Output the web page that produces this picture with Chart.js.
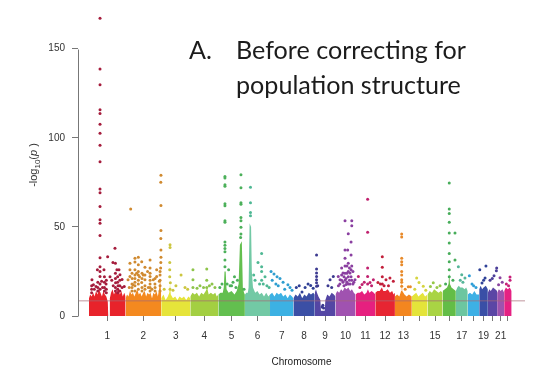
<!DOCTYPE html>
<html><head><meta charset="utf-8">
<script src="https://cdn.jsdelivr.net/npm/chart.js@4/dist/chart.umd.min.js"></script>
<style>html,body{margin:0;padding:0;background:#fff}#wrap{width:553px;height:392px;position:relative}</style>
</head><body><div id="wrap"><canvas id="c" width="553" height="392"></canvas></div>
<script>
// ---- data ----
const chromosomes = ['1','2','3','4','5','6','7','8','9','10','11','12','13','14','15','16','17','18','19','20','21','22'];
const shownLabels = ['1','2','3','4','5','6','7','8','9','10','11','12','13','15','17','19','21'];
const chromLengthMb = [249,243,198,191,181,171,159,146,141,136,135,134,115,107,103,90,81,78,59,63,48,51];
const yTicks = [0,50,100,150];
const thresholdValue = 8.5;
const xTitle = 'Chromosome';
const panelTitleLetter = 'A.';
const panelTitleLines = ['Before correcting for','population structure'];

const chromColors = ['#e8232b','#f4891f','#e6e43a','#a3cf42','#63bf4f','#72c9a5','#3cb1e3','#3b4fa5','#5446a4','#a052b0','#e6207f','#e72532','#f3861f','#e4e43a','#a9d444','#63bd47','#6cc6a0','#3db0e5','#3a4fa6','#5b46a5','#9d53ae','#e52183'];
const hitColors = ['#a51c3c','#d08a30','#ccc640','#8ec44a','#4cb05a','#4fb894','#2e9ed0','#2f3f95','#3c3a90','#8a3fa0','#c0206e','#c21f3a','#e88a2a','#d5d440','#96c848','#47ad5a','#55b598','#2f9fd8','#2f4298','#4b3e98','#8a449f','#c81e78'];

// dense bulk of SNPs: upper outline of the solid band, [position Mb, -log10 p]
const blockTop = [
 [[0,10],[8,12],[18,11],[28,13],[38,11],[48,14],[58,12],[68,15],[78,13],[88,11],[98,14],[108,12],[118,11],[128,8],[131,0],[139,0],[142,10],[150,13],[160,15],[170,12],[180,14],[190,13],[200,16],[210,12],[220,14],[230,11],[240,13],[249,11]],
 [[0,10],[10,12],[20,11],[30,14],[40,12],[50,13],[60,11],[70,13],[80,15],[90,12],[100,13],[110,11],[120,13],[130,14],[140,11],[150,13],[160,12],[170,13],[180,10],[190,13],[200,12],[210,14],[220,11],[230,16],[236,20],[242,13],[243,11]],
 [[0,10],[15,12],[30,9],[45,11],[55,13],[60,18],[65,12],[80,10],[95,11],[110,9],[125,11],[140,10],[155,11],[170,9],[185,11],[198,10]],
 [[0,11],[15,13],[30,12],[45,13],[60,11],[75,13],[90,12],[105,14],[115,16],[125,12],[140,13],[155,12],[170,13],[180,11],[191,12]],
 [[0,12],[15,13],[30,13],[37,16],[42,25],[50,25],[56,15],[70,13],[90,14],[110,12],[125,14],[138,18],[147,40],[160,42],[167,16],[175,13],[181,12]],
 [[0,12],[10,13],[20,13],[25,16],[32,52],[42,50],[47,25],[55,16],[70,13],[85,14],[100,12],[115,13],[130,11],[145,13],[160,11],[171,12]],
 [[0,12],[15,13],[30,11],[45,13],[60,12],[75,13],[90,11],[105,12],[120,10],[135,12],[150,11],[159,10]],
 [[0,10],[15,12],[30,11],[45,13],[60,10],[75,12],[90,11],[105,13],[120,12],[135,13],[146,12]],
 [[0,13],[8,15],[15,13],[25,11],[38,9],[42,3],[68,3],[72,9],[85,12],[100,11],[115,13],[130,12],[141,11]],
 [[0,12],[12,14],[25,13],[38,15],[50,14],[62,16],[75,15],[88,16],[100,14],[112,15],[125,13],[136,12]],
 [[0,12],[15,13],[30,13],[45,14],[60,12],[75,13],[85,15],[95,13],[110,14],[125,13],[135,12]],
 [[0,13],[15,14],[30,14],[45,16],[55,14],[70,14],[85,15],[100,13],[115,14],[125,12],[134,13]],
 [[0,11],[15,12],[30,11],[42,14],[46,22],[50,14],[65,12],[80,11],[95,12],[115,11]],
 [[0,11],[15,12],[30,13],[45,11],[60,12],[75,13],[90,11],[107,12]],
 [[0,12],[15,14],[30,13],[45,15],[60,14],[75,13],[90,14],[103,13]],
 [[0,14],[15,15],[30,16],[40,18],[45,24],[50,18],[60,16],[75,15],[90,14]],
 [[0,14],[10,16],[20,17],[30,16],[45,16],[60,15],[70,16],[81,14]],
 [[0,12],[15,13],[30,12],[45,14],[60,12],[78,12]],
 [[0,15],[10,17],[20,15],[30,16],[45,17],[59,15]],
 [[0,13],[10,15],[20,14],[35,16],[50,15],[63,14]],
 [[0,13],[12,15],[24,14],[36,15],[48,13]],
 [[0,14],[12,16],[25,15],[38,16],[51,14]]
];

// individual SNPs standing out above the bulk, [position Mb, -log10 p]
const hits = [
 [[75,167],[75,138.6],[75,129.8],[75,115.7],[75,113.6],[75,107.6],[75,102.6],[75,95.8],[75,86.6],[75,71.3],[75,69.1],[75,61.4],[75,54],[75,52],[75,45.2],[75,32.7],[75,27.7],[75,22.2],[127,33.3],[177,38],[163,30],[180,29.6],[190,26],[211,23.2],[204,26],[57,26],[102,26],[20,20.4],[86,19.5],[181,18.6],[48,16.5],[116,18],[143,22],[225,20.5],[198,17],[30,17.5],[240,16.5],[155,20],
  [18,13],[18,15],[18,17],[60,14],[60,16],[60,19],[105,14],[105,16],[105,19],[105,22],[118,13],[118,15],[118,20],[180,14],[180,16],[180,21],[180,24],[195,13],[195,15],[195,19],[195,22],[210,14],[210,17],[210,20],[75,15],[75,18],[75,25],[36,15],[92,16],[165,17],[225,16]],
 [[35,60],[241,79],[240,75],[241,62],[241,48],[240,43.5],[241,37],[241,33],[240,30],[239,27],[30,29.6],[30,26],[30,22.2],[64,32.4],[64,30.3],[64,26],[87,32.9],[87,28.7],[110,30.5],[132,27.4],[167,31.4],[167,22.2],[189,20.4],[212,26],[212,22.2],[230,19.5],[132,20.4],[110,18.8],[51,17.6],[17,20.4],[75,24],[95,22],[150,25],[200,18],[120,23],[45,21],
  [44,14],[44,16],[44,18],[44,24],[64,14],[64,17],[64,19],[64,21],[64,23],[87,15],[87,18],[87,20],[87,23],[87,25],[112,14],[112,16],[112,21],[112,24],[132,15],[132,17],[132,23],[167,14],[167,16],[167,18],[167,20],[167,24],[167,27],[201,14],[201,16],[201,21],[235,14],[235,17],[235,20],[235,23],[235,25],[155,16],[180,15],[25,16]],
 [[60,40],[60,38.5],[58,30],[58,26],[62,18.6],[135,23],[162,16],[100,17],[20,15],[80,14.5],[180,15],[58,22],[60,15]],
 [[18,26],[18,20.4],[112,26.3],[112,20],[66,17],[148,18],[168,16],[46,15.5],[90,16],[130,17],[18,16],[112,16]],
 [[45,78.3],[45,77.4],[45,73.7],[45,72.8],[45,63],[45,61.8],[45,53.5],[45,52.6],[45,41.5],[45,39.7],[45,37.9],[45,36],[45,31.4],[45,27.7],[154,79.3],[154,71.9],[154,63.6],[154,62.7],[154,55.3],[154,53.5],[154,49.8],[154,46],[152,44],[10,16],[25,18],[80,17],[100,19],[120,16],[175,15],[70,26],[110,22],[130,20],[60,18],[90,17]],
 [[38,72.3],[38,63.6],[38,58],[38,56.3],[114,35],[114,27.7],[114,25],[89,30],[137,22],[69,20],[60,23],[100,18],[150,17],[165,16],[114,20],[125,18]],
 [[7,25],[27,23.5],[48,22],[68,21],[89,19],[122,17.5],[136,16],[15,20],[40,18],[100,15],[150,14.5],[56,17]],
 [[118,17.1],[59,13.5],[20,16],[40,17],[80,16],[100,18],[135,15.5]],
 [[12,34.2],[12,26.3],[12,24.1],[12,22.2],[12,20.4],[12,18.6],[12,16.7],[104,20.4],[126,22.2],[90,17],[20,17],[55,6],[60,4.5],[50,5],[115,16]],
 [[65,53.5],[111,53.5],[111,50.7],[87,46.2],[106,41.5],[65,37],[83,37],[65,32.4],[106,34.2],[87,29.6],[42,26.9],[19,22.2],[119,25],[133,20.4],[51,24.1],[99,24.1],[31,20.4],[72,17.7],[95,27],[78,28],[58,22],[125,19],
  [20,17],[30,18],[42,20],[42,23],[51,19],[58,17],[65,20],[65,24],[65,28],[72,21],[78,19],[78,24],[87,18],[87,22],[87,25],[95,20],[99,18],[106,22],[106,26],[111,20],[111,28],[119,18]],
 [[83,65.5],[83,47],[83,26.9],[83,22.2],[20,22.2],[122,20.4],[45,17.7],[99,18.8],[60,19],[110,17],[83,18],[30,16]],
 [[48,33.3],[48,27.4],[48,22],[100,21.3],[123,19.5],[18,18.8],[73,20.4],[35,18],[90,17],[48,18],[60,17]],
 [[46,46],[46,44.3],[46,32.4],[46,30.5],[46,28.7],[46,25],[46,20.4],[46,16.7],[91,16.4],[105,16.4],[70,15],[46,23],[46,19]],
 [[33,21.3],[78,16.7],[49,18.8],[20,15],[95,14.5]],
 [[39,18.6],[64,16],[20,16.5],[85,17]],
 [[45,74.6],[45,60],[45,57.5],[45,52.6],[45,46.5],[45,41],[45,35.1],[45,30.5],[45,25.9],[45,22],[84,46.5],[84,31.4],[70,20],[20,18]],
 [[17,27.7],[40,23.2],[62,21.3],[48,19],[30,20]],
 [[11,22.6],[29,18],[56,16],[40,17]],
 [[4,26],[46,28.1],[40,21.3],[19,18.5],[30,20]],
 [[42,22.6],[60,26.9],[58,25.4],[15,20],[30,21]],
 [[20,21.5],[35,19],[10,17.5]],
 [[40,21.9],[40,20],[30,17],[15,18]]
];

// ---- derived ----
const offsets = []; let acc = 0;
chromLengthMb.forEach(l => { offsets.push(acc); acc += l; });
const centers = chromLengthMb.map((l, i) => offsets[i] + l / 2);
const xMin = -75, xMax = 2970;

const datasets = [];
datasets.push({
  data: [{x: xMin, y: thresholdValue}, {x: xMax, y: thresholdValue}],
  borderColor: 'rgba(165,105,115,0.7)', borderWidth: 1, pointRadius: 0, fill: false
});
chromosomes.forEach((c, i) => {
  datasets.push({
    data: hits[i].map(([p, v]) => ({x: offsets[i] + p, y: v})),
    showLine: false, pointRadius: 1.5, pointHoverRadius: 1.5,
    pointBackgroundColor: hitColors[i], pointBorderWidth: 0, borderColor: hitColors[i]
  });
});
chromosomes.forEach((c, i) => {
  datasets.push({
    data: blockTop[i].map(([p, v]) => ({x: offsets[i] + p, y: v})),
    borderWidth: 0, borderColor: chromColors[i], pointRadius: 0, tension: 0,
    fill: 'origin', backgroundColor: chromColors[i]
  });
});

Chart.defaults.font.family = '"Liberation Sans", Arial, sans-serif';

const yAxisLine = {
  id: 'yAxisLine',
  afterDraw(chart) {
    const ctx = chart.ctx, ys = chart.scales.y;
    const x = Math.round(chart.chartArea.left) + 0.5;
    ctx.save();
    ctx.strokeStyle = '#777'; ctx.lineWidth = 1;
    ctx.beginPath();
    ctx.moveTo(x, Math.round(ys.getPixelForValue(yTicks[0])) + 0.5);
    ctx.lineTo(x, Math.round(ys.getPixelForValue(yTicks[yTicks.length - 1])) + 0.5);
    ctx.stroke();
    // y-axis title  -log10(p)
    ctx.translate(33, 165);
    ctx.rotate(-Math.PI / 2);
    ctx.fillStyle = '#333';
    const fam = '"Liberation Sans", Arial, sans-serif';
    const parts = [['-log', 'normal 11px ' + fam, 0], ['10', 'normal 8px ' + fam, 3], ['(', 'normal 11px ' + fam, 0], ['p', 'italic 11px ' + fam, 0], [' )', 'normal 11px ' + fam, 0]];
    let total = 0;
    parts.forEach(p => { ctx.font = p[1]; total += ctx.measureText(p[0]).width; });
    let cx = -total / 2;
    ctx.textBaseline = 'alphabetic';
    parts.forEach(p => { ctx.font = p[1]; ctx.fillText(p[0], cx, 4 + p[2]); cx += ctx.measureText(p[0]).width; });
    ctx.restore();
  }
};

const panelTitle = {
  id: 'panelTitle',
  afterDraw(chart) {
    const ctx = chart.ctx;
    ctx.save();
    const fam = 'Lato, "Open Sans", sans-serif';
    ctx.font = '24px ' + fam;
    const w = ctx.measureText(panelTitleLines[0]).width;
    const size = 24 * 230 / w;
    ctx.font = size.toFixed(2) + 'px ' + fam;
    ctx.fillStyle = '#1c1c1c';
    ctx.textBaseline = 'alphabetic';
    ctx.fillText(panelTitleLetter, 189, 59);
    ctx.fillText(panelTitleLines[0], 236, 59);
    ctx.fillText(panelTitleLines[1], 236, 94);
    ctx.restore();
  }
};

new Chart(document.getElementById('c'), {
  type: 'line',
  data: { datasets },
  options: {
    responsive: false, animation: false, events: [],
    layout: { padding: { left: 0, right: 28, top: 9, bottom: 0 } },
    plugins: { legend: { display: false }, tooltip: { enabled: false } },
    scales: {
      x: {
        type: 'linear', min: xMin, max: xMax,
        border: { display: false },
        grid: { drawOnChartArea: false, drawTicks: true, tickLength: 5, tickColor: '#777' },
        afterBuildTicks: s => { s.ticks = centers.map(v => ({ value: v })); },
        ticks: {
          autoSkip: false, maxRotation: 0, minRotation: 0, padding: 9,
          color: '#333', font: { size: 10 },
          callback: (v, i) => shownLabels.includes(chromosomes[i]) ? chromosomes[i] : ''
        },
        afterFit: s => { s.height = 76; },
        title: { display: true, text: xTitle, color: '#222', font: { size: 10 }, padding: { top: 0, bottom: 24 } }
      },
      y: {
        min: 0, max: 170,
        border: { display: false },
        grid: { drawOnChartArea: false, drawTicks: true, tickLength: 6, tickColor: '#777' },
        afterBuildTicks: s => { s.ticks = yTicks.map(v => ({ value: v })); },
        ticks: { padding: 7, color: '#333', font: { size: 10 } },
        afterFit: s => { s.width = 78; }
      }
    }
  },
  plugins: [yAxisLine, panelTitle]
});
</script>
</body></html>
